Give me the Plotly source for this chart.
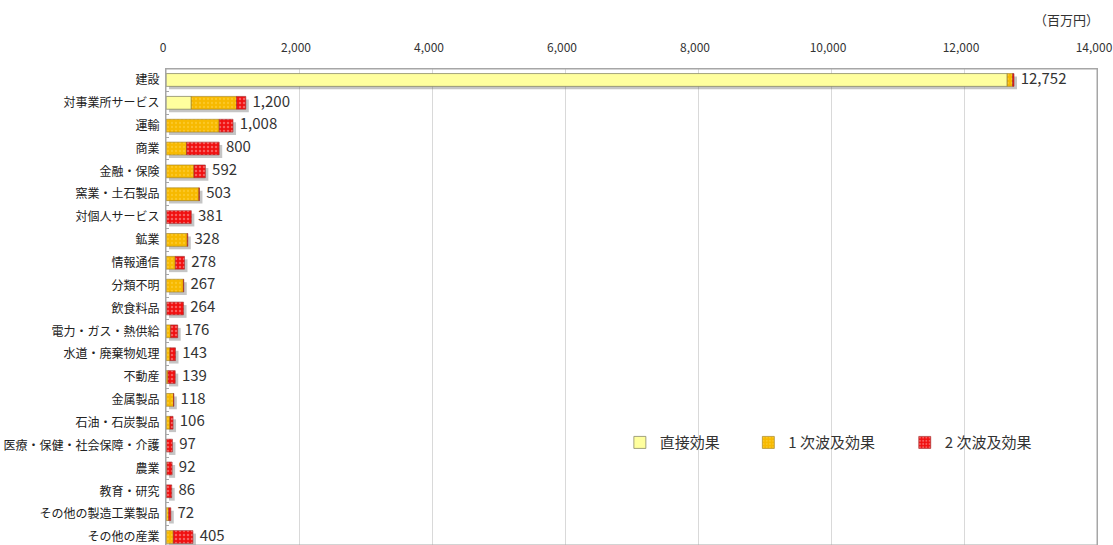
import plotly.graph_objects as go

# 産業別の経済波及効果（百万円）
categories = [
    "建設", "対事業所サービス", "運輸", "商業", "金融・保険", "窯業・土石製品",
    "対個人サービス", "鉱業", "情報通信", "分類不明", "飲食料品",
    "電力・ガス・熱供給", "水道・廃棄物処理", "不動産", "金属製品",
    "石油・石炭製品", "医療・保健・社会保障・介護", "農業", "教育・研究",
    "その他の製造工業製品", "その他の産業",
]
direct = [12650, 380, 0, 0, 0, 0, 0, 0, 0, 0, 0, 0, 0, 0, 0, 0, 0, 0, 0, 0, 0]
first_wave = [80, 680, 800, 310, 420, 495, 6, 320, 140, 262, 9, 70, 60, 30, 113, 60, 5, 12, 2, 40, 110]
second_wave = [22, 140, 208, 490, 172, 8, 375, 8, 138, 5, 255, 106, 83, 109, 5, 46, 92, 80, 84, 32, 295]
totals = [12752, 1200, 1008, 800, 592, 503, 381, 328, 278, 267, 264, 176, 143, 139, 118, 106, 97, 92, 86, 72, 405]
x_ticks = [0, 2000, 4000, 6000, 8000, 10000, 12000, 14000]

FONT = "Noto Sans CJK JP"
BAR_W = 0.56

base_first = [d for d in direct]
base_second = [d + f for d, f in zip(direct, first_wave)]

fig = go.Figure()

# drop shadow behind each bar
fig.add_trace(go.Bar(
    y=categories, x=totals, base=[45] * len(totals), orientation="h",
    width=BAR_W, offset=-BAR_W / 2 + 0.13,
    marker=dict(color="rgba(90,90,90,0.35)", line=dict(width=0)),
    showlegend=False, hoverinfo="skip",
))

fig.add_trace(go.Bar(
    name="直接効果", y=categories, x=direct, base=[0] * len(direct),
    orientation="h", width=BAR_W, offset=-BAR_W / 2, legend="legend",
    marker=dict(color="#FFFF9E", line=dict(color="#8a8a6a", width=0.8)),
))
fig.add_trace(go.Bar(
    name="1 次波及効果", y=categories, x=first_wave, base=base_first,
    orientation="h", width=BAR_W, offset=-BAR_W / 2, legend="legend2",
    marker=dict(color="#F7B900", line=dict(color="#9a7a20", width=0.6),
                pattern=dict(shape=".", fgcolor="#FFD650", bgcolor="#F7B900",
                             size=4, solidity=0.25)),
))
fig.add_trace(go.Bar(
    name="2 次波及効果", y=categories, x=second_wave, base=base_second,
    orientation="h", width=BAR_W, offset=-BAR_W / 2, legend="legend3",
    marker=dict(color="#F01010", line=dict(color="#9a3030", width=0.6),
                pattern=dict(shape=".", fgcolor="#FFB0B0", bgcolor="#F01010",
                             size=4, solidity=0.3)),
))

# total labels at bar ends
fig.add_trace(go.Scatter(
    y=categories, x=totals, mode="text",
    text=["  " + f"{v:,}" for v in totals], textposition="middle right",
    textfont=dict(family=FONT, size=15, color="#333333"),
    showlegend=False, hoverinfo="skip", cliponaxis=False,
))

legend_style = dict(
    orientation="h", y=0.215, xanchor="left", yanchor="middle",
    font=dict(family=FONT, size=15, color="#333333"),
    itemwidth=30, bgcolor="rgba(0,0,0,0)",
)

fig.update_layout(
    width=1113, height=545,
    margin=dict(l=166, r=16, t=69, b=0, autoexpand=False),
    paper_bgcolor="white", plot_bgcolor="white",
    barmode="overlay",
    font=dict(family=FONT, color="#333333"),
    legend=dict(x=0.4875, **legend_style),
    legend2=dict(x=0.6255, **legend_style),
    legend3=dict(x=0.7935, **legend_style),
    xaxis=dict(
        side="top", range=[0, 14000], tickvals=x_ticks,
        ticktext=[f"{v:,}" for v in x_ticks],
        tickfont=dict(family=FONT, size=12, color="#333333"),
        ticklabeloverflow="allow", ticklabelshift=-3,
        showgrid=True, gridcolor="#d9d9d9", gridwidth=1,
        showline=True, linecolor="#a6a6a6", linewidth=1, mirror=True,
        zeroline=False, ticks="", ticklabelstandoff=11,
    ),
    yaxis=dict(
        type="category", categoryorder="array", categoryarray=categories,
        range=[20.35, -0.48], autorange=False,
        tickfont=dict(family=FONT, size=12, color="#222222"),
        showline=True, linecolor="#a6a6a6", linewidth=1, mirror=True,
        ticks="inside", ticklen=3, tickcolor="#a6a6a6", tickson="boundaries",
        showgrid=False, ticklabelstandoff=3,
    ),
    annotations=[dict(
        text="（百万円）", x=1.0, y=1.0, xref="paper", yref="paper",
        xanchor="right", yanchor="bottom", yshift=38, xshift=4, showarrow=False,
        font=dict(family=FONT, size=13, color="#333333"),
    )],
    # plot-area frame
    shapes=[dict(type="rect", xref="paper", yref="paper", x0=0, x1=1,
                 y0=0, y1=1, line=dict(color="#a6a6a6", width=1),
                 fillcolor="rgba(0,0,0,0)", layer="above")],
)

fig.write_html("out.html")
